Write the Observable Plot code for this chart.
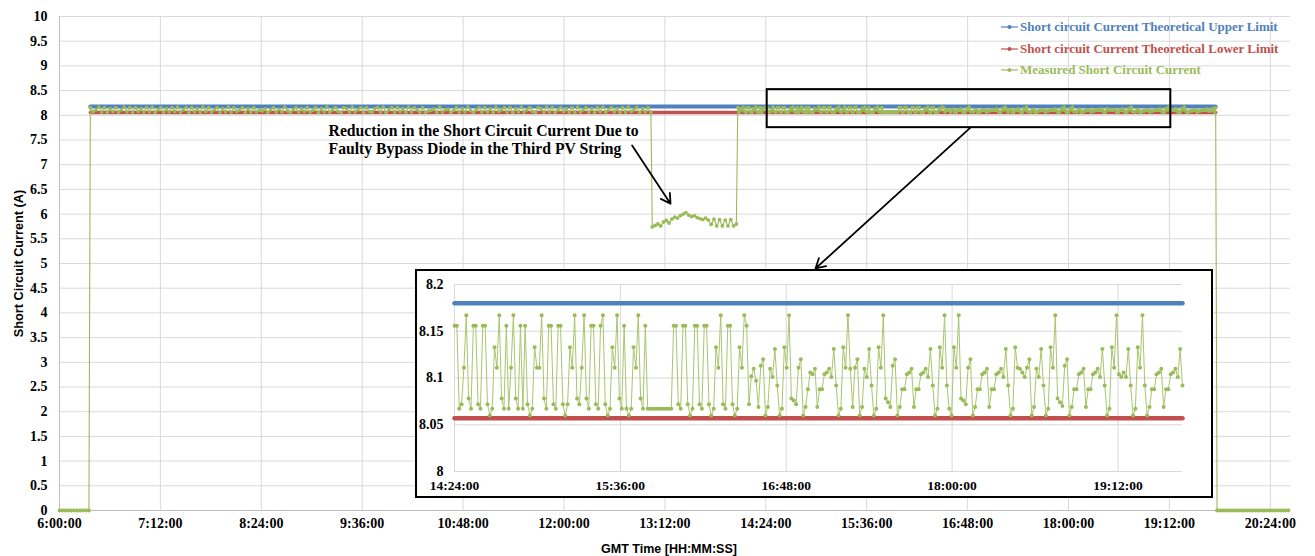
<!DOCTYPE html>
<html><head><meta charset="utf-8">
<script src="https://cdn.jsdelivr.net/npm/d3@7"></script>
<script src="https://cdn.jsdelivr.net/npm/@observablehq/plot@0.6"></script>
<style>
body{margin:0;background:#fff;}
#wrap{position:relative;width:1315px;height:556px;background:#fff;}
#inset{position:absolute;left:415px;top:269px;border:2px solid #000;background:#fff;width:794px;height:225px;}
#legend{position:absolute;left:1001px;top:16px;font:bold 13px "Liberation Serif","Times New Roman",serif;}
#legend .row{display:flex;align-items:center;height:21.7px;white-space:nowrap;}
#legend svg{margin-right:2px;}
</style></head><body><div id="wrap"><div id="legend"></div></div>
<script>
// ---------- data ----------
const seriesNames = ["Short circuit Current Theoretical Upper Limit","Short circuit Current Theoretical Lower Limit","Measured Short Circuit Current"];
const seriesColors = ["#4F81BD","#C0504D","#9BBB59"];
const upperLimit = 8.18;
const lowerLimit = 8.057;
const limitStart = "6:22:00", limitEnd = "19:45:00";

const mainXTicks = ["6:00:00","7:12:00","8:24:00","9:36:00","10:48:00","12:00:00","13:12:00","14:24:00","15:36:00","16:48:00","18:00:00","19:12:00","20:24:00"];
const mainYTicks = [0,0.5,1,1.5,2,2.5,3,3.5,4,4.5,5,5.5,6,6.5,7,7.5,8,8.5,9,9.5,10];
const insetXTicks = ["14:24:00","15:36:00","16:48:00","18:00:00","19:12:00"];
const insetYTicks = [8,8.05,8.1,8.15,8.2];

const zerosStart = [0,0,0,0,0,0,0,0,0,0,0];
const morning = [
8.156,8.072,8.111,8.167,8.067,8.156,8.060,8.133,8.078,8.156,8.067,8.111,8.167,8.072,8.156,8.060,8.156,8.078,8.133,8.067,
8.156,8.072,8.167,8.060,8.111,8.156,8.067,8.133,8.072,8.156,8.078,8.167,8.067,8.111,8.156,8.060,8.156,8.072,8.133,8.067,
8.167,8.078,8.156,8.067,8.111,8.156,8.060,8.133,8.072,8.167,8.067,8.156,8.078,8.111,8.156,8.060,8.133,8.067,8.156,8.072,
8.104,8.088,8.131,8.060,8.110,8.156,8.067,8.120,8.072,8.167,8.092,8.060,8.111,8.156,8.069,8.133,8.078,8.156,8.067,8.101,
8.156,8.060,8.133,8.072,8.167,8.067,8.111,8.156,8.078,8.060,8.156,8.133,8.067,8.167,8.072,8.111,8.156,8.060,8.156,8.078,
8.067,8.133,8.156,8.072,8.167,8.060,8.111,8.156,8.067,8.156,8.078,8.133,8.060,8.167,8.072,8.156,8.111,8.067,8.156,8.060,
8.088,8.106,8.131,8.060,8.167,8.069,8.113,8.120,8.060,8.101,8.156,8.067,8.133,8.072,8.167,8.092,8.060,8.110,8.156,8.067,
8.156,8.072,8.133,8.060,8.167,8.078,8.111,8.156,8.067,8.156,8.060,8.133,8.072,8.167,8.067,8.111,8.156,8.078,8.060,8.156,
8.133,8.067,8.167,8.072,8.156,8.060,8.111,8.156,8.078,8.133,8.067,8.156,8.060,8.167,8.072,8.111,8.156,8.067,8.133,8.060,
8.156,8.078,8.167,8.067,8.111,8.156,8.072,8.133,8.060,8.156,8.067,8.167,8.078,8.111,8.156,8.060,8.133,8.072,8.156,8.067];
const dip = [5.74,5.77,5.80,5.76,5.84,5.87,5.82,5.90,5.94,5.92,5.97,6.00,6.03,5.98,5.95,5.97,5.93,5.91,5.89,5.92,5.88,5.79,5.90,5.76,5.89,5.76,5.88,5.76,5.89,5.76,5.80];
const postDip = [8.156,8.067,8.133,8.111,8.167,8.078,8.067,8.156,8.156,8.072,8.060,8.133,8.111,8.167,8.072,8.067,8.156,8.060,8.111,8.156];
const zoomed = [
8.156,8.156,8.067,8.072,8.111,8.167,8.078,8.067,8.156,8.156,8.072,8.067,8.156,8.156,8.072,8.060,8.067,8.133,8.111,8.167,
8.078,8.067,8.156,8.067,8.111,8.167,8.078,8.067,8.156,8.067,8.156,8.072,8.060,8.067,8.133,8.111,8.111,8.167,8.078,8.067,
8.156,8.156,8.072,8.067,8.156,8.156,8.072,8.060,8.072,8.133,8.111,8.167,8.078,8.072,8.111,8.167,8.078,8.067,8.156,8.156,
8.072,8.067,8.156,8.167,8.072,8.060,8.067,8.133,8.111,8.167,8.078,8.067,8.156,8.067,8.060,8.067,8.133,8.111,8.167,8.078,
8.067,8.156,8.067,8.067,8.067,8.067,8.067,8.067,8.067,8.067,8.067,8.067,8.067,8.156,8.156,8.072,8.067,8.156,8.156,8.072,
8.060,8.067,8.156,8.156,8.072,8.067,8.156,8.156,8.072,8.060,8.067,8.133,8.111,8.167,8.072,8.067,8.156,8.156,8.072,8.060,
8.067,8.133,8.111,8.167,8.156,8.072,8.102,8.110,8.097,8.069,8.113,8.120,8.060,8.069,8.110,8.101,8.131,8.092,8.060,8.067,
8.133,8.111,8.167,8.078,8.076,8.072,8.111,8.120,8.060,8.069,8.088,8.106,8.104,8.110,8.069,8.088,8.088,8.104,8.106,8.110,
8.101,8.131,8.092,8.060,8.067,8.133,8.111,8.167,8.110,8.069,8.111,8.120,8.060,8.069,8.110,8.101,8.131,8.092,8.060,8.067,
8.133,8.111,8.167,8.078,8.074,8.069,8.113,8.120,8.060,8.069,8.088,8.088,8.104,8.106,8.110,8.069,8.088,8.088,8.104,8.106,
8.110,8.101,8.131,8.092,8.060,8.067,8.133,8.111,8.167,8.092,8.067,8.060,8.133,8.111,8.167,8.078,8.076,8.072,8.111,8.120,
8.060,8.069,8.088,8.088,8.104,8.106,8.110,8.069,8.088,8.088,8.104,8.106,8.110,8.101,8.131,8.092,8.060,8.067,8.133,8.111,
8.110,8.106,8.101,8.111,8.120,8.060,8.069,8.110,8.101,8.131,8.092,8.060,8.067,8.133,8.111,8.167,8.078,8.074,8.070,8.113,
8.120,8.060,8.069,8.088,8.088,8.104,8.106,8.110,8.069,8.088,8.088,8.104,8.106,8.110,8.101,8.131,8.092,8.060,8.067,8.133,
8.111,8.167,8.104,8.101,8.106,8.101,8.131,8.092,8.060,8.067,8.133,8.111,8.167,8.092,8.060,8.069,8.088,8.088,8.104,8.106,
8.110,8.069,8.088,8.088,8.104,8.106,8.110,8.101,8.131,8.092];
const tail = [8.088,8.104,8.133,8.072,8.156];
const zerosEnd = [0,0,0,0,0,0,0,0,0,0,0,0,0,0,0,0,0,0,0,0,0,0,0,0,0,0,0];

// segment time spans [start, end]
const segments = [
  {start:"6:00:00", end:"6:21:00", values:zerosStart},
  {start:"6:22:00", end:"13:02:00", values:morning},
  {start:"13:03:00", end:"14:03:00", values:dip},
  {start:"14:04:00", end:"14:23:00", values:postDip},
  {start:"14:24:00", end:"19:40:00", values:zoomed, inset:true},
  {start:"19:41:00", end:"19:45:00", values:tail},
  {start:"19:46:00", end:"20:37:00", values:zerosEnd}
];

const annotText = "Reduction in the Short Circuit Current Due to\nFaulty Bypass Diode in the Third PV String";
const annotPos = {x:"9:12:00", y:7.51};
const annotArrow = {x1:"12:48:36", y1:7.39, x2:"13:16:00", y2:6.21};
const zoomBox = {x1:"14:25:00", x2:"19:13:00", y1:7.75, y2:8.52};
const zoomArrow = {x1:"16:50:00", y1:7.75, x2:"14:59:30", y2:4.90};

// ---------- helpers ----------
const t = s => { const [h,m,sec] = s.split(":").map(Number); return new Date(Date.UTC(2020,0,1,h,m,sec||0)); };
const pad = n => String(n).padStart(2,"0");
const fmt = d => `${d.getUTCHours()}:${pad(d.getUTCMinutes())}:${pad(d.getUTCSeconds())}`;

const measured = [];
const insetData = [];
for (const s of segments) {
  const a = +t(s.start), b = +t(s.end), n = s.values.length;
  s.values.forEach((v,i) => {
    const row = {time:new Date(a + (n>1 ? (b-a)*i/(n-1) : 0)), value:v};
    measured.push(row);
    if (s.inset) insetData.push(row);
  });
}
const limits = [
  {series:"upper", rows:[{time:t(limitStart), value:upperLimit},{time:t(limitEnd), value:upperLimit}]},
  {series:"lower", rows:[{time:t(limitStart), value:lowerLimit},{time:t(limitEnd), value:lowerLimit}]}
];
const insetLimits = [
  {rows:[{time:t("14:24:00"), value:upperLimit},{time:t("19:40:00"), value:upperLimit}]},
  {rows:[{time:t("14:24:00"), value:lowerLimit},{time:t("19:40:00"), value:lowerLimit}]}
];

const serif = "'Liberation Serif','Times New Roman',serif";
const sans = "'Liberation Sans',Arial,sans-serif";

// ---------- main chart ----------
const xMainTickDates = mainXTicks.map(t);
const main = Plot.plot({
  width:1315, height:556,
  marginLeft:59, marginRight:25, marginTop:16, marginBottom:46,
  style:{fontFamily:serif, fontSize:"14px", fontWeight:"bold", color:"#000", background:"#fff", overflow:"visible"},
  x:{type:"utc", domain:[t("6:00:00"), t("20:38:24")]},
  y:{domain:[0,10]},
  marks:[
    Plot.gridY(mainYTicks, {stroke:"#d9d9d9", strokeOpacity:1}),
    Plot.gridX(xMainTickDates, {stroke:"#d9d9d9", strokeOpacity:1}),
    Plot.ruleX([t("6:00:00")], {stroke:"#bfbfbf"}),
    Plot.ruleY([0], {stroke:"#bfbfbf"}),
    Plot.axisY(mainYTicks, {tickSize:0, tickPadding:12, tickFormat:d=>String(d), label:null, fontFamily:serif, fontSize:14, fontWeight:"bold", fill:"#000"}),
    Plot.axisX(xMainTickDates, {tickSize:0, tickPadding:8, tickFormat:fmt, label:null, fontFamily:serif, fontSize:14, fontWeight:"bold", fill:"#000"}),
    Plot.line(limits[0].rows, {x:"time", y:"value", stroke:seriesColors[0], strokeWidth:4}),
    Plot.line(limits[1].rows, {x:"time", y:"value", stroke:seriesColors[1], strokeWidth:3.5}),
    Plot.line(measured, {x:"time", y:"value", stroke:seriesColors[2], strokeWidth:1.1, curve:"linear"}),
    Plot.dot(measured, {x:"time", y:"value", r:1.9, fill:seriesColors[2], stroke:null}),
    Plot.rect([zoomBox], {x1:d=>t(d.x1), x2:d=>t(d.x2), y1:"y1", y2:"y2", fill:"none", stroke:"#000", strokeWidth:2}),
    Plot.arrow([annotArrow, zoomArrow], {x1:d=>t(d.x1), y1:"y1", x2:d=>t(d.x2), y2:"y2", stroke:"#000", strokeWidth:1.8, headLength:9}),
    Plot.text([annotText], {x:()=>t(annotPos.x), y:()=>annotPos.y, text:d=>d, textAnchor:"start", lineAnchor:"middle", lineHeight:1.15, fontFamily:serif, fontSize:15.7, fontWeight:"bold", fill:"#000"}),
    Plot.text(["GMT Time [HH:MM:SS]"], {text:d=>d, frameAnchor:"bottom", textAnchor:"middle", lineAnchor:"middle", dy:38, dx:-6, fontFamily:sans, fontSize:12.5, fontWeight:"bold", fill:"#000"}),
    Plot.text(["Short Circuit Current (A)"], {text:d=>d, frameAnchor:"left", textAnchor:"middle", lineAnchor:"middle", rotate:-90, dx:-41, fontFamily:sans, fontSize:12.7, fontWeight:"bold", fill:"#000"})
  ]
});
const wrap = document.getElementById("wrap");
wrap.insertBefore(main, wrap.firstChild);

// ---------- inset ----------
const xInsetTickDates = insetXTicks.map(t);
const inset = Plot.plot({
  width:794, height:225,
  marginLeft:37, marginRight:29, marginTop:13, marginBottom:25,
  style:{fontFamily:serif, fontSize:"13.5px", fontWeight:"bold", color:"#000", background:"#fff", overflow:"visible"},
  x:{type:"utc", domain:[t("14:24:00"), t("19:40:00")]},
  y:{domain:[8,8.2]},
  marks:[
    Plot.gridY(insetYTicks, {stroke:"#d9d9d9", strokeOpacity:1}),
    Plot.gridX(xInsetTickDates, {stroke:"#d9d9d9", strokeOpacity:1}),
    Plot.axisY(insetYTicks, {tickSize:0, tickPadding:11, tickFormat:d=>String(d), label:null, fontFamily:serif, fontSize:14, fontWeight:"bold", fill:"#000"}),
    Plot.axisX(xInsetTickDates, {tickSize:0, tickPadding:9, tickFormat:fmt, label:null, fontFamily:serif, fontSize:13.5, fontWeight:"bold", fill:"#000"}),
    Plot.line(insetLimits[0].rows, {x:"time", y:"value", stroke:seriesColors[0], strokeWidth:4.5}),
    Plot.line(insetLimits[1].rows, {x:"time", y:"value", stroke:seriesColors[1], strokeWidth:4.5}),
    Plot.line(insetData, {x:"time", y:"value", stroke:"#a9c66e", strokeWidth:1}),
    Plot.dot(insetData, {x:"time", y:"value", r:2, fill:seriesColors[2], stroke:null})
  ]
});
const insetDiv = document.createElement("div");
insetDiv.id = "inset";
insetDiv.appendChild(inset);
wrap.appendChild(insetDiv);

// ---------- legend ----------
const legend = d3.select("#legend");
seriesNames.forEach((name,i) => {
  const row = legend.append("div").attr("class","row").style("color", seriesColors[i]);
  const svg = row.append("svg").attr("width",17).attr("height",8);
  svg.append("line").attr("x1",0).attr("x2",17).attr("y1",4).attr("y2",4).attr("stroke",seriesColors[i]).attr("stroke-width",1.2);
  svg.append("circle").attr("cx",8.5).attr("cy",4).attr("r",2).attr("fill",seriesColors[i]);
  row.append("span").text(name);
});
</script></body></html>
